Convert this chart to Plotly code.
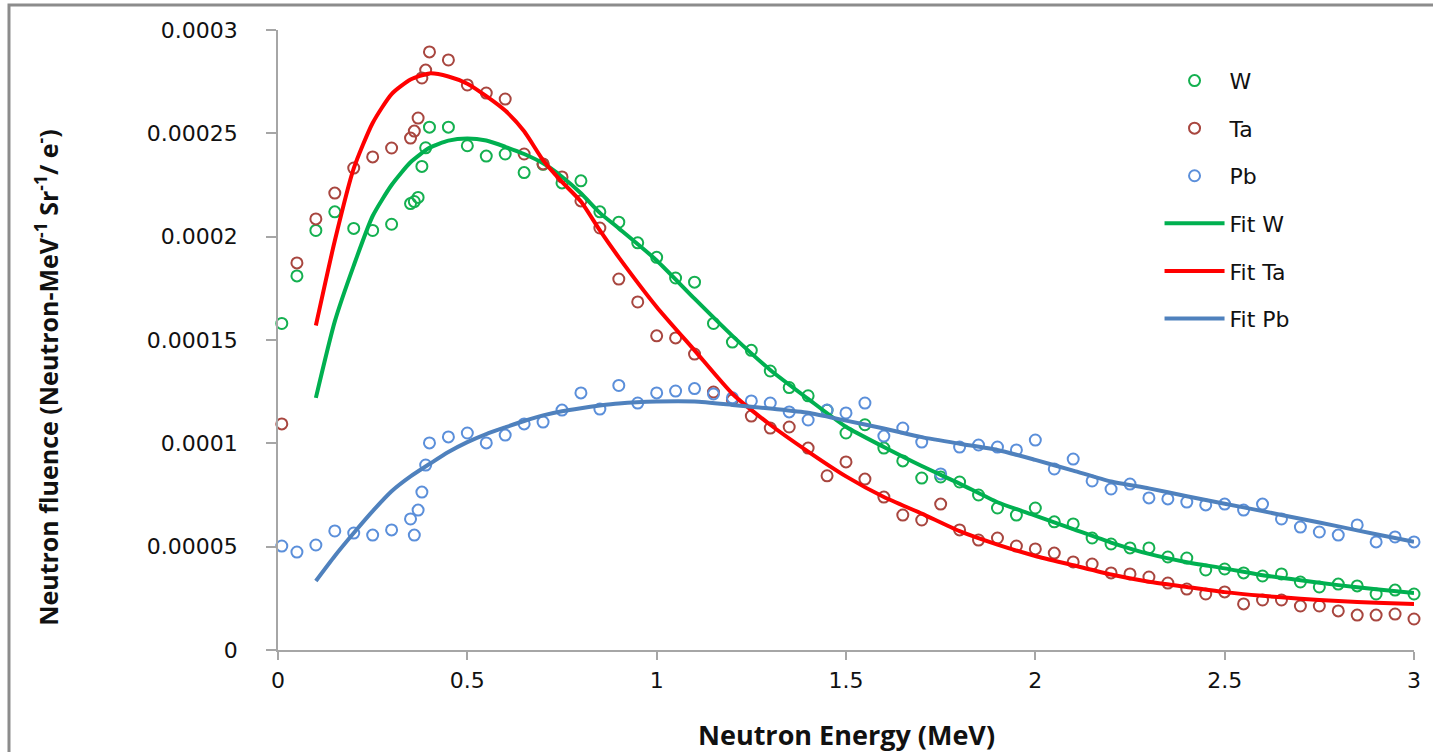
import plotly.graph_objects as go

# ---------------- data ----------------
energy = [0.01, 0.05, 0.1, 0.15, 0.2, 0.25, 0.3, 0.35, 0.36, 0.37, 0.38, 0.39,
          0.4, 0.45, 0.5, 0.55, 0.6, 0.65, 0.7, 0.75, 0.8, 0.85, 0.9, 0.95,
          1.0, 1.05, 1.1, 1.15, 1.2, 1.25, 1.3, 1.35, 1.4, 1.45, 1.5, 1.55,
          1.6, 1.65, 1.7, 1.75, 1.8, 1.85, 1.9, 1.95, 2.0, 2.05, 2.1, 2.15,
          2.2, 2.25, 2.3, 2.35, 2.4, 2.45, 2.5, 2.55, 2.6, 2.65, 2.7, 2.75,
          2.8, 2.85, 2.9, 2.95, 3.0]

w_data = [0.000158, 0.000181, 0.000203, 0.000212, 0.000204, 0.000203, 0.000206,
          0.000216, 0.000217, 0.000219, 0.000234, 0.000243,
          0.000253, 0.000253, 0.000244, 0.000239, 0.000240, 0.000231, 0.000235,
          0.000226, 0.000227, 0.000212, 0.000207, 0.000197,
          0.000190, 0.000180, 0.000178, 0.000158, 0.000149, 0.000145, 0.000135,
          0.000127, 0.000123, 0.000116, 0.000105, 0.000109,
          0.0000977, 0.0000915, 0.0000832, 0.0000837, 0.0000813, 0.0000750,
          0.0000687, 0.0000653, 0.0000687, 0.0000620, 0.0000610, 0.0000542,
          0.0000513, 0.0000494, 0.0000494, 0.0000450, 0.0000445, 0.0000387,
          0.0000392, 0.0000373, 0.0000358, 0.0000368, 0.0000329, 0.0000305,
          0.0000319, 0.0000310, 0.0000271, 0.0000290, 0.0000271]

ta_data = [0.0001094, 0.0001873, 0.0002086, 0.0002211, 0.0002332, 0.0002386, 0.0002429,
           0.0002477, 0.0002511, 0.0002574, 0.0002768, 0.0002806,
           0.0002894, 0.0002855, 0.0002734, 0.0002695, 0.0002666, 0.0002400, 0.0002352,
           0.0002289, 0.0002173, 0.0002042, 0.0001795, 0.0001684,
           0.0001520, 0.0001510, 0.0001432, 0.0001248, 0.0001210, 0.0001132, 0.0001074,
           0.0001079, 0.0000977, 0.0000843, 0.0000910, 0.0000827,
           0.0000740, 0.0000653, 0.0000629, 0.0000706, 0.0000581, 0.0000532,
           0.0000542, 0.0000503, 0.0000489, 0.0000469, 0.0000426, 0.0000416,
           0.0000373, 0.0000368, 0.0000353, 0.0000324, 0.0000295, 0.0000271,
           0.0000281, 0.0000223, 0.0000242, 0.0000242, 0.0000213, 0.0000213,
           0.0000189, 0.0000169, 0.0000169, 0.0000174, 0.0000150]

pb_data = [0.0000503, 0.0000474, 0.0000508, 0.0000576, 0.0000566, 0.0000556, 0.0000581,
           0.0000634, 0.0000556, 0.0000677, 0.0000764, 0.0000895,
           0.0001002, 0.0001031, 0.0001050, 0.0001002, 0.0001040, 0.0001094, 0.0001103,
           0.0001161, 0.0001244, 0.0001166, 0.0001280, 0.0001195,
           0.0001244, 0.0001253, 0.0001265, 0.0001239, 0.0001220, 0.0001205, 0.0001195,
           0.0001152, 0.0001113, 0.0001161, 0.0001147, 0.0001195,
           0.0001035, 0.0001074, 0.0001006, 0.0000852, 0.0000982, 0.0000992,
           0.0000982, 0.0000968, 0.0001016, 0.0000876, 0.0000924, 0.0000818,
           0.0000779, 0.0000803, 0.0000736, 0.0000731, 0.0000716, 0.0000702,
           0.0000706, 0.0000677, 0.0000706, 0.0000634, 0.0000595, 0.0000571,
           0.0000556, 0.0000605, 0.0000523, 0.0000547, 0.0000523]

fit_energy = [0.1, 0.15, 0.2, 0.25, 0.3, 0.35, 0.4, 0.45, 0.5, 0.55, 0.6, 0.65,
              0.7, 0.75, 0.8, 0.85, 0.9, 1.0, 1.1, 1.2, 1.3, 1.4, 1.5, 1.6,
              1.7, 1.8, 1.9, 2.0, 2.1, 2.2, 2.3, 2.4, 2.5, 2.6, 2.7, 2.8, 2.9, 3.0]

fit_w = [0.000122, 0.000159, 0.000186, 0.000210, 0.000225, 0.000236, 0.000243,
         0.0002465, 0.0002475, 0.0002465, 0.0002435, 0.000240,
         0.0002355, 0.000229, 0.000221, 0.0002115, 0.000204, 0.0001885, 0.000170,
         0.000152, 0.0001355, 0.0001215, 0.000108, 0.0000982,
         0.000089, 0.0000805, 0.0000715, 0.000065, 0.0000585, 0.000052, 0.0000465,
         0.0000425, 0.0000395, 0.0000362, 0.0000338, 0.0000314, 0.0000294, 0.0000276]

fit_ta = [0.000157, 0.000198, 0.000233, 0.000255, 0.000269, 0.000276, 0.000279,
          0.0002775, 0.000274, 0.000268, 0.000261, 0.000251,
          0.000237, 0.0002265, 0.000217, 0.000203, 0.000190, 0.000166, 0.000145,
          0.000124, 0.000109, 0.000096, 0.000084, 0.000074,
          0.000066, 0.0000575, 0.000051, 0.0000455, 0.000041, 0.0000365, 0.000033,
          0.0000305, 0.000028, 0.0000262, 0.0000248, 0.0000237, 0.0000229, 0.0000223]

fit_pb = [0.0000334, 0.0000455, 0.0000566, 0.0000672, 0.0000768, 0.0000840, 0.0000900,
          0.0000958, 0.0001006, 0.0001045, 0.0001077, 0.0001108,
          0.0001135, 0.0001155, 0.0001170, 0.0001183, 0.0001193, 0.0001202, 0.0001202,
          0.0001186, 0.0001168, 0.0001148, 0.0001110, 0.0001072,
          0.0001030, 0.0000998, 0.0000968, 0.0000920, 0.0000868, 0.0000815, 0.0000782,
          0.0000744, 0.0000708, 0.0000672, 0.0000635, 0.0000598, 0.0000560, 0.0000523]

x_ticks = [0, 0.5, 1, 1.5, 2, 2.5, 3]
x_tick_text = ["0", "0.5", "1", "1.5", "2", "2.5", "3"]
y_ticks = [0, 0.00005, 0.0001, 0.00015, 0.0002, 0.00025, 0.0003]
y_tick_text = ["0", "0.00005", "0.0001", "0.00015", "0.0002", "0.00025", "0.0003"]

# ---------------- figure ----------------
fig = go.Figure()

marker_series = [
    ("W", w_data, "#14B050"),
    ("Ta", ta_data, "#A8463F"),
    ("Pb", pb_data, "#5B8FDA"),
]
for name, vals, col in marker_series:
    fig.add_trace(go.Scatter(
        x=energy, y=vals, mode="markers", name=name, legendgroup=name,
        cliponaxis=False,
        marker=dict(symbol="circle-open", size=11, color=col, line=dict(width=2, color=col)),
    ))

fit_series = [
    ("Fit W", fit_w, "#00B050"),
    ("Fit Ta", fit_ta, "#FF0000"),
    ("Fit Pb", fit_pb, "#4F81BD"),
]
for name, vals, col in fit_series:
    fig.add_trace(go.Scatter(
        x=fit_energy, y=vals, mode="lines", name=name, legendgroup=name,
        line=dict(color=col, width=4, shape="spline", smoothing=0.6),
    ))

axis_col = "#A6A6A6"
tick_font = dict(family="DejaVu Sans", size=22, color="#111111")

fig.update_layout(
    width=1433, height=752, autosize=False,
    margin=dict(l=278, r=19, t=30, b=102),
    paper_bgcolor="white", plot_bgcolor="white",
    showlegend=True,
    legend=dict(
        x=0.776, y=0.952, xanchor="left", yanchor="top",
        font=dict(family="DejaVu Sans", size=22, color="#111111"),
        bgcolor="rgba(0,0,0,0)", tracegroupgap=16, itemwidth=60,
    ),
    xaxis=dict(
        range=[0, 3], tickvals=x_ticks, ticktext=x_tick_text,
        showgrid=False, zeroline=False, showline=True, linecolor=axis_col, linewidth=1.5,
        ticks="outside", ticklen=8, tickcolor=axis_col, tickwidth=1.5,
        tickfont=tick_font, ticklabelstandoff=2,
    ),
    yaxis=dict(
        range=[0, 0.0003], tickvals=y_ticks, ticktext=y_tick_text,
        showgrid=False, zeroline=False, showline=True, linecolor=axis_col, linewidth=1.5,
        ticks="outside", ticklen=10, tickcolor=axis_col, tickwidth=1.5,
        tickfont=tick_font, ticklabelstandoff=24,
    ),
    annotations=[
        dict(text="<b>Neutron Energy (MeV)</b>", xref="paper", yref="paper",
             x=0.5, y=-0.137, xanchor="center", yanchor="middle", showarrow=False,
             font=dict(family="Open Sans", size=27, color="#111111")),
        dict(text="<b>Neutron fluence (Neutron-MeV<sup>-1</sup> Sr<sup>-1</sup>/ e<sup>-</sup>)</b>",
             xref="paper", yref="paper", x=-0.2033, y=0.439, xanchor="center", yanchor="middle",
             textangle=-90, showarrow=False,
             font=dict(family="Open Sans", size=25, color="#111111")),
    ],
    shapes=[
        dict(type="rect", xref="paper", yref="paper", x0=-0.2368, x1=1.03, y0=-0.2, y1=1.0403,
             line=dict(color="#8C8C8C", width=3), fillcolor="rgba(0,0,0,0)", layer="below"),
    ],
)

fig.write_html(
    "out.html",
    config={"displayModeBar": False},
    post_script="document.body.style.margin='0';document.body.style.overflow='hidden';",
)
